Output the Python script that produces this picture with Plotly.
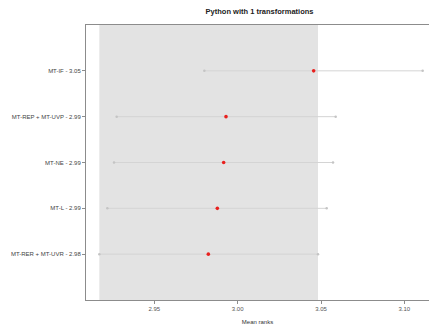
import plotly.graph_objects as go

# Mean ranks with critical-difference intervals, one row per method (bottom to top)
methods = ["MT-RER + MT-UVR", "MT-L", "MT-NE", "MT-REP + MT-UVP", "MT-IF"]
mean_ranks = [2.9824, 2.9878, 2.9916, 2.9930, 3.0456]
lower = [2.9170, 2.9218, 2.9258, 2.9274, 2.9800]
upper = [3.0482, 3.0534, 3.0572, 3.0588, 3.1110]
x_ticks = [2.95, 3.00, 3.05, 3.10]

labels = [f"{m} - {v:.2f}" for m, v in zip(methods, mean_ranks)]
ypos = list(range(len(methods)))

fig = go.Figure()

# interval lines with small end dots
for y, lo, hi in zip(ypos, lower, upper):
    fig.add_trace(go.Scatter(
        x=[lo, hi], y=[y, y], mode="lines+markers",
        line=dict(color="#d4d4d4", width=1),
        marker=dict(color="#c4c4c4", size=2.5),
        hoverinfo="skip", showlegend=False,
    ))

# mean rank points
fig.add_trace(go.Scatter(
    x=mean_ranks, y=ypos, mode="markers",
    marker=dict(color="#e8201e", size=3.6),
    showlegend=False,
))

# shaded band spanning the best method's interval
best = mean_ranks.index(min(mean_ranks))
fig.add_shape(type="rect", xref="x", yref="paper",
              x0=lower[best], x1=upper[best], y0=0, y1=1,
              fillcolor="#e3e3e3", line=dict(width=0), layer="below")

fig.update_layout(
    width=429, height=333,
    margin=dict(l=86, r=0, t=25, b=33),
    paper_bgcolor="white", plot_bgcolor="white",
    font=dict(family="Liberation Sans, Arial, sans-serif", size=6, color="#444444"),
    title=dict(text="<b>Python with 1 transformations</b>", x=0.605, xanchor="center",
               y=1 - 11 / 333, yanchor="middle",
               font=dict(size=7.5, color="#222222")),
    xaxis=dict(
        range=[2.909, 3.1148], tickvals=x_ticks,
        ticktext=[f"{t:.2f}" for t in x_ticks],
        showgrid=False, zeroline=False,
        showline=True, linecolor="#8c8c8c", linewidth=1, mirror=True,
        ticks="outside", ticklen=3, tickcolor="#8c8c8c",
        title=dict(text="Mean ranks", standoff=8, font=dict(size=6, color="#333333")),
        tickfont=dict(size=6, color="#555555"),
    ),
    yaxis=dict(
        range=[-1, 5], tickvals=ypos, ticktext=labels,
        showgrid=False, zeroline=False,
        showline=True, linecolor="#8c8c8c", linewidth=1,
        ticks="outside", ticklen=3, tickcolor="#8c8c8c",
        tickfont=dict(size=6, color="#444444"),
    ),
)

fig.write_html("out.html")
